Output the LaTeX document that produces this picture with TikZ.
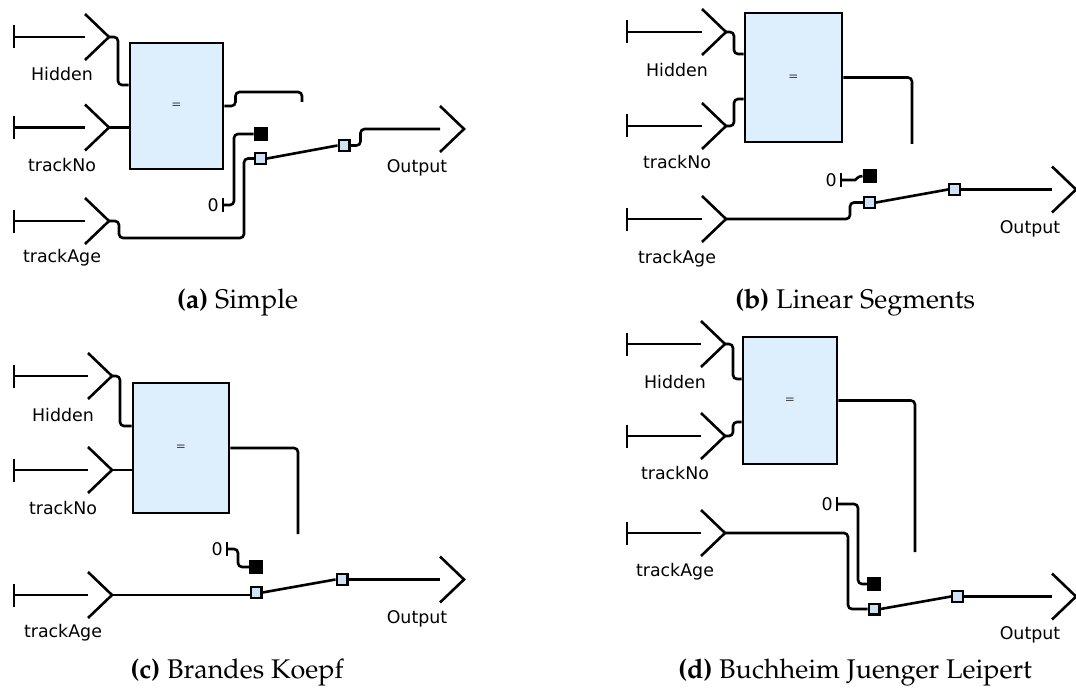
\documentclass[tikz,border=0pt]{standalone}
\usepackage[T1]{fontenc}
\usepackage{fontspec}
\newfontfamily\labelfont{DejaVu Sans}
\usetikzlibrary{calc}
\definecolor{boxblue}{RGB}{221,238,253}
\definecolor{sqblue}{RGB}{206,226,245}
\newcommand\capfont{\fontencoding{T1}\fontfamily{ppl}\fontsize{13.5}{16}\selectfont}
\tikzset{
  portline/.style={line width=1.3pt},
  wire/.style={line width=1.3pt, rounded corners=2pt},
  blockbox/.style={draw, line width=1.45pt, fill=boxblue, inner sep=0pt,
    font=\labelfont\fontsize{6}{7}\selectfont, text=black!75},
  swsq/.style={draw, line width=1.1pt, fill=sqblue, minimum size=5.4pt, inner sep=0pt},
  blksq/.style={draw, line width=1.1pt, fill=black, minimum size=5.9pt, inner sep=0pt},
  portlabel/.style={font=\labelfont\fontsize{8.7}{10}\selectfont, inner sep=0pt},
  caption/.style={font=\capfont, anchor=base, inner sep=0pt},
}
% input port: name, tip position, length from bar to tip
\newcommand\inport[3]{%
  \coordinate (#1) at (#2);
  \draw[portline] (#1) ++(-#3,-11.5) -- ++(0,23);
  \draw[portline] (#1) ++(-#3,0) -- ++(#3-24,0);
  \draw[portline] (#1) ++(-24,-23) -- (#1) -- ++(-24,23);
}
% output port: name, left position
\newcommand\outport[2]{%
  \coordinate (#1) at (#2);
  \draw[portline] (#1) ++(0,-23) -- ++(24,23) -- ++(-24,23);
}
% constant 0 terminal: name, bar position
\newcommand\zeroterm[2]{%
  \coordinate (#1) at (#2);
  \draw[portline] (#1) ++(0,-7) -- ++(0,14);
  \node[portlabel, anchor=east] (#1l) at ($(#1)+(-4,0)$) {0};
}
\begin{document}
\begin{tikzpicture}[x=0.5pt,y=-0.5pt]
\useasboundingbox (0,0) rectangle (1076,690);

% ================= (a) Simple =================
\inport{hA}{109,37}{95}
\inport{nA}{109,127.5}{95}
\inport{gA}{109,221}{95}
\node[portlabel, anchor=base] (lhA) at (62,81) {Hidden};
\node[portlabel, anchor=base] (lnA) at (62,171.5) {trackNo};
\node[portlabel, anchor=base] (lgA) at (62,262) {trackAge};
\node[blockbox, minimum width=46.5pt, minimum height=63pt] (bA) at (176.5,106) {=};
\draw[wire] (hA) -- ++(9,0) |- (bA.west |- 0,85);
\draw[wire] (nA) -- (bA.west |- nA);
\coordinate (oA) at (302,102);
\draw[wire] (bA.east) -- ++(11,0) |- (oA |- 0,92) -- (oA);
\node[blksq] (kA) at (260.5,134) {};
\node[swsq] (sA1) at (260.5,158.5) {};
\node[swsq] (sA2) at (344,145.5) {};
\zeroterm{zA}{223,205}
\draw[wire] (zA) -- ++(11,0) |- (kA.west);
\draw[wire] (gA) -- ++(10,0) |- (244,238) |- (sA1.west);
\draw[wire] (sA1.east) -- (sA2.west);
\outport{pA}{440,129}
\draw[wire] (sA2.east) -- ++(10,0) |- (pA);
\node[portlabel, anchor=base] (lpA) at (417,172) {Output};
\node[caption] (cA) at (237.5,308) {\textbf{(a)} Simple};

% ================= (b) Linear Segments =================
\inport{hB}{726,32}{99}
\inport{nB}{726,126}{99}
\inport{gB}{726,219}{99}
\node[portlabel, anchor=base] (lhB) at (677,76.5) {Hidden};
\node[portlabel, anchor=base] (lnB) at (677,169) {trackNo};
\node[portlabel, anchor=base] (lgB) at (677,263) {trackAge};
\node[blockbox, minimum width=48.5pt, minimum height=64.5pt] (bB) at (793.5,77.5) {=};
\draw[wire] (hB) -- ++(8,0) |- (bB.west |- 0,54);
\draw[wire] (nB) -- ++(8,0) |- (bB.west |- 0,99);
\coordinate (oB) at (912,144);
\draw[wire] (bB.east) -| (oB);
\node[blksq] (kB) at (869.5,176) {};
\node[swsq] (sB1) at (869.5,202.5) {};
\node[swsq] (sB2) at (954.5,189.5) {};
\zeroterm{zB}{841,180}
\draw[wire] (zB) -- ++(10,0) to[out=0,in=180] (kB.west);
\draw[wire] (gB) -- ++(124,0) |- (sB1.west);
\draw[wire] (sB1.east) -- (sB2.west);
\outport{pB}{1052,189.5}
\draw[wire] (sB2.east) -- (pB);
\node[portlabel, anchor=base] (lpB) at (1030,233) {Output};
\node[caption] (cB) at (855,308) {\textbf{(b)} Linear Segments};

% ================= (c) Brandes Koepf =================
\inport{hC}{112,376}{98}
\inport{nC}{112,470}{98}
\inport{gC}{112,595}{98}
\node[portlabel, anchor=base] (lhC) at (63,421) {Hidden};
\node[portlabel, anchor=base] (lnC) at (63,514) {trackNo};
\node[portlabel, anchor=base] (lgC) at (63,637) {trackAge};
\node[blockbox, minimum width=48pt, minimum height=65pt] (bC) at (181,448) {=};
\draw[wire] (hC) -- ++(8,0) |- (bC.west |- 0,426);
\draw[wire] (nC) -- (bC.west |- nC);
\coordinate (oC) at (298,534);
\draw[wire] (bC.east) -| (oC);
\node[blksq] (kC) at (256,567) {};
\node[swsq] (sC1) at (256,592.5) {};
\node[swsq] (sC2) at (342,579.5) {};
\zeroterm{zC}{227,549}
\draw[wire] (zC) -- ++(11,0) |- (kC.west);
\draw[wire] (gC) -- (sC1.west |- gC);
\draw[wire] (sC1.east) -- (sC2.west);
\outport{pC}{440,579.5}
\draw[wire] (sC2.east) -- (pC);
\node[portlabel, anchor=base] (lpC) at (417,623) {Output};
\node[caption] (cC) at (237,678) {\textbf{(c)} Brandes Koepf};

% ================= (d) Buchheim Juenger Leipert =================
\inport{hD}{725,344}{98}
\inport{nD}{725,436}{98}
\inport{gD}{725,533}{98}
\node[portlabel, anchor=base] (lhD) at (675,388) {Hidden};
\node[portlabel, anchor=base] (lnD) at (675,479) {trackNo};
\node[portlabel, anchor=base] (lgD) at (675,576) {trackAge};
\node[blockbox, minimum width=47pt, minimum height=63.5pt] (bD) at (790,400.5) {=};
\draw[wire] (hD) -- ++(8,0) |- (bD.west |- 0,379);
\draw[wire] (nD) -- ++(8,0) |- (bD.west |- 0,422);
\coordinate (oD) at (915,552);
\draw[wire] (bD.east) -| (oD);
\node[blksq] (kD) at (874,584) {};
\node[swsq] (sD1) at (874,609) {};
\node[swsq] (sD2) at (957.5,596.5) {};
\zeroterm{zD}{837,504}
\draw[wire] (zD) -- ++(21,0) |- (kD.west);
\draw[wire] (gD) -- ++(123,0) |- (sD1.west);
\draw[wire] (sD1.east) -- (sD2.west);
\outport{pD}{1052,596.5}
\draw[wire] (sD2.east) -- (pD);
\node[portlabel, anchor=base] (lpD) at (1030,639) {Output};
\node[caption] (cD) at (855,678) {\textbf{(d)} Buchheim Juenger Leipert};
\end{tikzpicture}
\end{document}
